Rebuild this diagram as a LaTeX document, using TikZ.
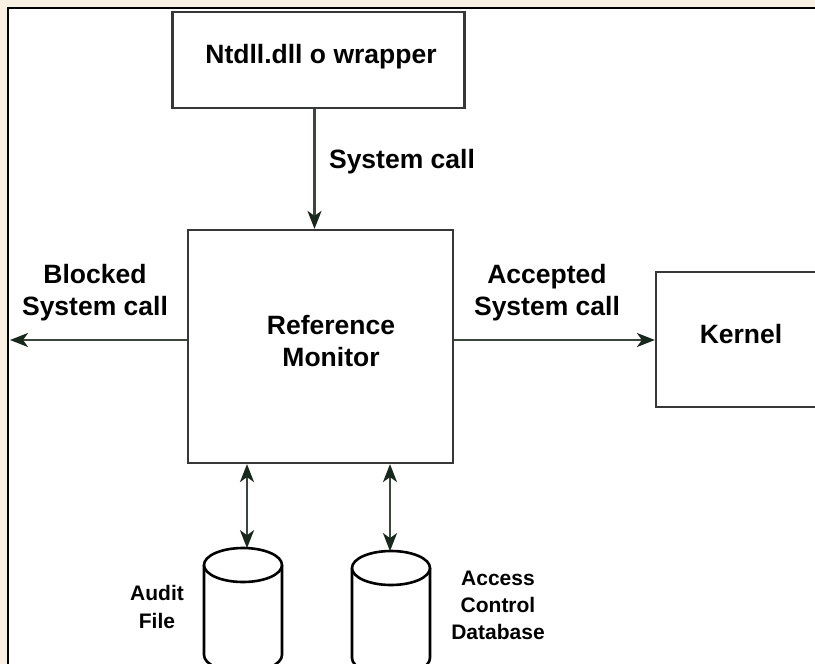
\documentclass[tikz,border=0pt]{standalone}
\usepackage{fontspec}
\setmainfont{Liberation Sans}
\usetikzlibrary{arrows.meta}
\definecolor{bgc}{RGB}{248,240,227}
\definecolor{boxc}{RGB}{55,55,55}
\definecolor{arrc}{RGB}{60,70,60}
\definecolor{tipc}{RGB}{25,40,28}
\begin{document}
\begin{tikzpicture}[x=1pt,y=-1pt,
  box/.style={draw=boxc, line width=2.2pt, fill=white, inner sep=0pt},
  lbl/.style={font=\bfseries\fontsize{26.5}{32}\selectfont, inner sep=0pt, anchor=base, text=black},
  slbl/.style={font=\bfseries\fontsize{21}{26}\selectfont, inner sep=0pt, anchor=base, text=black},
  arr/.style={draw=arrc, line width=2.2pt, -{Stealth[length=18pt,width=14pt,inset=5pt,color=tipc]}},
  darr/.style={draw=arrc, line width=2.2pt, {Stealth[length=18pt,width=14pt,inset=5pt,color=tipc]}-{Stealth[length=18pt,width=14pt,inset=5pt,color=tipc]}},
  cyl/.style={draw=black, line width=2.6pt, fill=white}]
\useasboundingbox (0,0) rectangle (815,664);
\clip (0,0) rectangle (815,664);
% background and frame
\fill[bgc] (0,0) rectangle (815,664);
\draw[fill=white, draw=black, line width=2.2pt] (8.3,8.3) rectangle (830,680);

% boxes
\node[box, minimum width=292pt, minimum height=96pt] (ntdll) at (318.5,60) {};
\node[box, minimum width=265pt, minimum height=233pt] (mon) at (320.5,346.5) {};
\node[box, minimum width=174pt, minimum height=135pt] (kern) at (743,339.5) {};

% box texts
\node[lbl] (tntdll) at (321,63) {Ntdll.dll o wrapper};
\node[lbl] (tref1) at (331,334) {Reference};
\node[lbl] (tref2) at (331,366) {Monitor};
\node[lbl] (tkern) at (741,343) {Kernel};

% cylinders
\draw[cyl] (204,565) -- (204,655) arc[start angle=180, end angle=360, x radius=39pt, y radius=17pt] -- (282,565);
\draw[cyl] (243,565) ellipse [x radius=39pt, y radius=17pt];
\draw[cyl] (352,568) -- (352,658) arc[start angle=180, end angle=360, x radius=39pt, y radius=17pt] -- (430,568);
\draw[cyl] (391,568) ellipse [x radius=39pt, y radius=17pt];
\coordinate (audtop) at (247,548.2);
\coordinate (acctop) at (390,551.1);

% connectors
\coordinate (sx) at (314.5,0);
\coordinate (hy) at (0,340);
\coordinate (blk) at (10,340);
\draw[arr] (sx |- ntdll.south) -- (sx |- mon.north);
\draw[arr] (mon.west |- hy) -- (blk);
\draw[arr] (mon.east |- hy) -- (kern.west |- hy);
\draw[darr] (audtop |- mon.south) -- (audtop);
\draw[darr] (acctop |- mon.south) -- (acctop);

% connector labels
\node[lbl] (lsys) at (402,168) {System call};
\node[lbl] (lblk1) at (95,283) {Blocked};
\node[lbl] (lblk2) at (95,315) {System call};
\node[lbl] (lacc1) at (547,283) {Accepted};
\node[lbl] (lacc2) at (547,315) {System call};
\node[slbl] (laud1) at (157,600) {Audit};
\node[slbl] (laud2) at (157,628) {File};
\node[slbl] (lac1) at (498,585) {Access};
\node[slbl] (lac2) at (498,612) {Control};
\node[slbl] (lac3) at (498,639) {Database};
\end{tikzpicture}
\end{document}
